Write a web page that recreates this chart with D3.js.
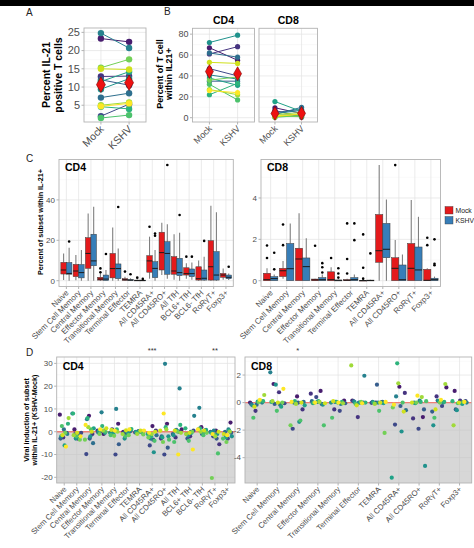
<!DOCTYPE html>
<html><head><meta charset="utf-8">
<script src="https://cdn.jsdelivr.net/npm/d3@7"></script>
<style>body{margin:0;background:#fff}svg{display:block;font-family:"Liberation Sans",Arial,sans-serif}</style>
</head><body><svg id="c" width="474" height="548"></svg>
<script>
// ---------------- DATA ----------------
const conditions = ["Mock", "KSHV"];
// Panel A: percent IL-21+ T cells per donor (14 donors)
const aMock = [23.3, 12.9, 2.0, 12.0, 7.1, 24.8, 9.4, 11.5, 4.6, 1.5, 15.3, 5.0, 15.0, 4.7];
const aKshv = [22.4, 13.0, 5.3, 10.5, 8.3, 20.7, 12.3, 14.2, 4.0, 2.3, 17.6, 5.8, 14.8, 5.5];
// Panel B: percent of T cell within IL21+
const bFacets = ["CD4", "CD8"];
const bCd4Mock = [67, 61, 47, 35, 62, 41, 72, 38, 22, 32, 36, 27, 53, 26];
const bCd4Kshv = [55, 68, 40, 35, 58, 37, 79, 31, 33, 17, 39, 22, 52, 24];
const bCd8Mock = [9.5, 7, 2, 5, 3, 4, 1, 15.5, 0.5, 2.5, 1.5, 3, 0.8, 2];
const bCd8Kshv = [4, 0.5, 3, 8, 10, 7, 2, 6, 2, 3, 1, 5, 4, 3];
// Subsets
const cd4Subsets = ["Naive", "Stem Cell Memory", "Central Memory", "Effector Memory", "Transitional Memory", "Terminal Effector", "TEMRA", "All CD45RA+", "All CD45RO+", "All TfH", "BCL6+ TfH", "BCL6- TfH", "RoR\u03b3T+", "Foxp3+"];
const cd8Subsets = ["Naive", "Stem Cell Memory", "Central Memory", "Effector Memory", "Transitional Memory", "Terminal Effector", "TEMRA", "All CD45RA+", "All CD45RO+", "RoR\u03b3T+", "Foxp3+"];
// Panel C box stats [lower whisker, q1, median, q3, upper whisker]
const cCd4Mock = [[0.3,3.3,5.3,9.1,13.5],[0.2,2,4.8,8.1,12.7],[0,6.1,13.5,21.3,33.3],[0,0.3,0.8,1.7,3.8],[0,1.4,6,13.5,26.3],[0,0.2,0.5,1.0,2],[0,0,0.1,0.3,0.6],[1,4.2,9.8,12.4,21.8],[2.8,5.3,13.9,24,28.7],[0.5,3.2,4.8,11.9,23],[1,2.8,3.5,6.4,8.6],[0,0.3,1.0,6.9,10],[0,0.3,6.9,19.8,37.1],[0.5,1.7,2.8,3.6,6]];
const cCd4Kshv = [[0,3.2,3.6,9,16.3],[0,1.4,4,8,15.2],[0,7.4,9.8,23,36.6],[0,0.1,0.8,2.8,5.3],[0,1,6,8.3,16],[0,0.1,0.3,0.6,1.2],[0,0,0.1,0.3,0.5],[0,1.5,6.1,9.4,15.2],[1,3.2,13.5,19.3,27.9],[0,2.5,4,11.1,23.8],[0.5,2,3.5,5.8,9],[0,0.3,1.2,5.3,11.9],[0,0.3,2.8,14.4,33.9],[0.3,1,1.7,2.8,3.6]];
const cCd4MockOut = [[],[],[],[6.1,4.2],[],[4.5],[1.5],[26.7],[],[],[11.9],[],[],[]];
const cCd4KshvOut = [[19.4],[],[],[13.2],[36.5],[3.2],[0.9],[23.4,22.3],[57.3],[32.5],[11.9],[19.7],[],[6.9]];
const cCd8Mock = [[0,0,0.05,0.36,0.6],[0.1,0.2,0.48,0.6,0.95],[0,0,1.05,1.57,3.26],[0,0,0.04,0.08,0.1],[0,0,0.05,0.43,0.65],[0,0,0.02,0.05,0.1],[0,0,0.01,0.02,0.05],[0,0.89,1.45,3.2,5.59],[0,0,0.6,1.11,1.97],[0,0,0.6,1.8,3.9],[0,0,0.02,0.55,0.6]];
const cCd8Kshv = [[0,0,0.1,0.2,0.3],[0,0,0.58,1.8,2.77],[0,0,0.68,1.1,2.05],[0,0,0.05,0.15,0.3],[0,0,0.02,0.03,0.05],[0,0,0.05,0.15,0.3],[0,0,0.01,0.03,0.05],[0,1.11,1.52,2.77,3.93],[0,0,0.05,0.76,1.27],[0,0,0.52,1.63,3.09],[0,0,0.05,0.12,0.2]];
const cCd8MockOut = [[1.7,1.1],[2.72,1.72],[],[1.69],[1.1],[2.77,1.05,0.35],[2.24,0.63,0.1],[],[5.59],[],[2.08,1.72]];
const cCd8KshvOut = [[1.35,0.55],[],[],[0.85,0.65,0.4],[0.6,0.35,0.15],[2.77,1.96],[1.32],[],[],[],[2.0,0.82,0.75]];
// Panel D: viral induction (KSHV - Mock), one value per donor (donor 0..13)
const dCd4 = [
 [7.5,-2.5,-0.5,-3,1,-1,-2,-6,3.5,2.5,-0.5,6,-1.5,-6.5],
 [1,-3,-0.5,-1,-1.5,8,-3,-2.5,8,-2,-3.5,-1.5,-0.5,-2],
 [7,-1,-9.8,-3,-5,5.5,-2,1.5,6,1,-3.5,2,0,3],
 [-1,0.5,0.3,0.5,-0.3,8.5,-0.5,0.3,2.5,0,-1,0.5,1.5,1],
 [3.5,1,-10,-5.5,0.3,10,-0.5,-1,1,-1.5,-1.8,0,0.8,0.5],
 [0,-1,0.2,-0.5,0,0.5,-3,-0.8,1.2,-2,-1.5,-1,0.6,1],
 [0,0.2,-0.3,0.3,-0.2,0,0.2,-0.4,-0.5,0,-1.2,-1,0.5,0.5],
 [2.5,0.5,-6,-3.5,-1.5,-3,-9,-1,-2,-4,-2.5,-1,0,-0.5],
 [3.5,-3,-10,-7,-2,29.8,-2,-2.5,2,-3.5,-4.5,1,0.5,8],
 [1,-2.5,0,-1,0.8,19,-1.5,0.5,3,-4.5,0,-0.5,0.5,-10],
 [-1,-2,0.5,-3,0,7,-1.5,-0.5,1.5,-4,0,-1,-0.5,-7.8],
 [2,0.5,1,-1,0,10.5,-0.5,0.8,1.5,-1.5,-0.5,0,0.5,1],
 [0.5,-5.5,-2,-3,0,0.5,-1,-0.5,-1.5,-9.5,-20.3,-2,0,-1],
 [4,-1,-3,-0.5,0,1,-2,-2.5,0.5,-3,-4.5,0,-1,-1.5]
];
const dCd8 = [
 [0,-0.6,0.1,-0.1,-0.15,0,-0.2,0.08,0.1,-1.1,0.05,0.55,-0.3,0.2],
 [1.35,0.75,-0.05,-0.1,-0.15,2.2,1.3,-0.3,0.05,-0.6,0,0.1,0,1.0],
 [0.45,-0.5,-1.9,0,0.05,0,-1.4,-0.2,0.1,-1.3,-1.65,-0.1,0,0.05],
 [0.85,0.65,0.4,-0.1,0.1,0.05,-0.15,-0.05,0.1,-1.65,0,0.05,-0.05,0],
 [0.15,-0.5,-0.6,-0.05,0.05,-0.1,0,0.05,0.05,-1.1,0,-0.05,0.1,0],
 [0.15,-1.05,0,0.1,0,1.95,0.05,0,0,-0.1,0.05,2.7,-0.2,-0.05],
 [0,0.02,-0.02,1.3,0.05,0.05,0,-0.05,0,-0.6,-2.2,-0.1,0,0.05],
 [1.15,0.7,-1.6,-0.25,-0.55,0.45,-2.1,-5.45,2.85,0,-0.35,1.4,-0.65,-0.15],
 [-1.05,-1.15,-1.9,-0.5,0,0.15,-4.6,-0.05,0.05,0.1,0,0.4,0,0.5],
 [1.1,0.45,-0.25,-0.65,0.15,0,-1.65,0.1,0.05,-1.1,0,1.35,-0.5,0.2],
 [0.85,0.15,0.1,-0.5,0,0,-0.55,-0.1,0.1,-0.05,0.05,-1.65,0,0.05]
];
const dCd4Sig = ["","","","","","","","***","","","","","**",""];
const dCd8Sig = ["","","*","","","","","","","",""];
const aTicks = [5,10,15,20,25];
const bTicks = [0,20,40,60,80];
const cCd4Ticks = [0,20,40];
const cCd8Ticks = [0,2,4];
const dCd4Ticks = [-20,-10,0,10,20,30];
const dCd8Ticks = [-4,-2,0,2];

// ---------------- STYLE / HELPERS ----------------
const svg = d3.select("#c");
const BORDER = "#b3b3b3", GRID = "#e3e3e3", GRIDMINOR = "#f3f3f3", TXT = "#4d4d4d";
const donorColor = i => d3.interpolateViridis(0.08 + 0.92 * i / 13);
const boxFill = {Mock: "#e41a1c", KSHV: "#377eb8"};

svg.append("rect").attr("x",0).attr("y",0).attr("width",474).attr("height",6).attr("fill","#000");

function frame(o) {
  const g = svg.append("g");
  g.append("rect").attr("x",o.x0).attr("y",o.y0).attr("width",o.x1-o.x0).attr("height",o.y1-o.y0).attr("fill","#fff");
  (o.minor||[]).forEach(v => g.append("line").attr("x1",o.x0).attr("x2",o.x1).attr("y1",o.y(v)).attr("y2",o.y(v)).attr("stroke",GRIDMINOR).attr("stroke-width",0.5));
  o.ticks.forEach(v => g.append("line").attr("x1",o.x0).attr("x2",o.x1).attr("y1",o.y(v)).attr("y2",o.y(v)).attr("stroke",GRID).attr("stroke-width",0.7));
  o.cats.forEach(c => g.append("line").attr("x1",o.x(c)).attr("x2",o.x(c)).attr("y1",o.y0).attr("y2",o.y1).attr("stroke",GRID).attr("stroke-width",0.7));
  return g;
}
function frameBorder(o) {
  const g = svg.append("g");
  g.append("rect").attr("x",o.x0).attr("y",o.y0).attr("width",o.x1-o.x0).attr("height",o.y1-o.y0).attr("fill","none").attr("stroke",BORDER).attr("stroke-width",0.9);
  if (o.yLabels !== false) {
    o.ticks.forEach(v => {
      g.append("line").attr("x1",o.x0-2.5).attr("x2",o.x0).attr("y1",o.y(v)).attr("y2",o.y(v)).attr("stroke",BORDER);
      g.append("text").attr("x",o.x0-4).attr("y",o.y(v)).attr("dy","0.35em").attr("text-anchor","end").attr("font-size",o.tickSize).attr("fill",TXT).text(v);
    });
  }
  o.cats.forEach(c => {
    g.append("line").attr("x1",o.x(c)).attr("x2",o.x(c)).attr("y1",o.y1).attr("y2",o.y1+2.5).attr("stroke",BORDER);
    g.append("text").attr("transform",`translate(${o.x(c)+o.xLabelSize*0.35},${o.y1+4+o.xLabelSize*0.35}) rotate(-45)`)
      .attr("text-anchor","end").attr("font-size",o.xLabelSize).attr("fill",TXT).text(c);
  });
}
function yTitle(lines, x, y, size, lh) {
  const t = svg.append("text").attr("transform",`translate(${x},${y}) rotate(-90)`).attr("text-anchor","middle")
    .attr("font-size",size).attr("font-weight","bold").attr("fill","#000");
  lines.forEach((l,i) => t.append("tspan").attr("x",0).attr("y",i*lh).text(l));
}
function panelLabel(t, x, y) {
  svg.append("text").attr("x",x).attr("y",y).attr("font-size",10).attr("fill","#222").text(t);
}
function pointScale(cats, x0, x1) { return d3.scalePoint().domain(cats).range([x0,x1]).padding(0.6); }

// ---------------- PANEL A ----------------
panelLabel("A", 26, 16);
{
  const o = {x0:84, x1:146, y0:28, y1:122, ticks:aTicks, minor:[2.5,7.5,12.5,17.5,22.5], cats:conditions, tickSize:11, xLabelSize:10.5};
  o.y = d3.scaleLinear().domain([0.4,26.2]).range([o.y1,o.y0]);
  o.x = pointScale(conditions, o.x0, o.x1);
  const g = frame(o);
  aMock.forEach((m,i) => {
    g.append("line").attr("x1",o.x("Mock")).attr("x2",o.x("KSHV")).attr("y1",o.y(m)).attr("y2",o.y(aKshv[i])).attr("stroke",donorColor(i)).attr("stroke-width",1);
  });
  aMock.forEach((m,i) => {
    g.append("circle").attr("cx",o.x("Mock")).attr("cy",o.y(m)).attr("r",3.2).attr("fill",donorColor(i));
    g.append("circle").attr("cx",o.x("KSHV")).attr("cy",o.y(aKshv[i])).attr("r",3.2).attr("fill",donorColor(i));
  });
  [["Mock",d3.mean(aMock)],["KSHV",d3.mean(aKshv)]].forEach(([c,v]) => {
    g.append("path").attr("d",d3.symbol(d3.symbolDiamond).size(70)()).attr("transform",`translate(${o.x(c)},${o.y(v)})`)
      .attr("fill","#ee1111").attr("stroke","#7a0000").attr("stroke-width",0.6);
  });
  frameBorder(o);
  yTitle(["Percent IL-21","positive T cells"], 50, 75, 10.5, 12);
}

// ---------------- PANEL B ----------------
panelLabel("B", 164, 15);
{
  const panels = [
    {x0:192.5, x1:254.5, mock:bCd4Mock, kshv:bCd4Kshv, name:bFacets[0], yLabels:true},
    {x0:259, x1:317.5, mock:bCd8Mock, kshv:bCd8Kshv, name:bFacets[1], yLabels:false}
  ];
  panels.forEach(p => {
    const o = {x0:p.x0, x1:p.x1, y0:28.3, y1:122, ticks:bTicks, minor:[10,30,50,70], cats:conditions, tickSize:9, xLabelSize:9, yLabels:p.yLabels};
    o.y = d3.scaleLinear().domain([-4.1,85.6]).range([o.y1,o.y0]);
    o.x = pointScale(conditions, o.x0, o.x1);
    const g = frame(o);
    p.mock.forEach((m,i) => g.append("line").attr("x1",o.x("Mock")).attr("x2",o.x("KSHV")).attr("y1",o.y(m)).attr("y2",o.y(p.kshv[i])).attr("stroke",donorColor(i)).attr("stroke-width",1));
    p.mock.forEach((m,i) => {
      g.append("circle").attr("cx",o.x("Mock")).attr("cy",o.y(m)).attr("r",2.6).attr("fill",donorColor(i));
      g.append("circle").attr("cx",o.x("KSHV")).attr("cy",o.y(p.kshv[i])).attr("r",2.6).attr("fill",donorColor(i));
    });
    [["Mock",d3.mean(p.mock)],["KSHV",d3.mean(p.kshv)]].forEach(([c,v]) => {
      g.append("path").attr("d",d3.symbol(d3.symbolDiamond).size(55)()).attr("transform",`translate(${o.x(c)},${o.y(v)})`)
        .attr("fill","#ee1111").attr("stroke","#7a0000").attr("stroke-width",0.6);
    });
    frameBorder(o);
    svg.append("text").attr("x",(o.x0+o.x1)/2).attr("y",24).attr("text-anchor","middle").attr("font-size",10.5).attr("font-weight","bold").text(p.name);
  });
  yTitle(["Percent of T cell","within IL21+"], 163, 74, 9, 8.5);
}

// ---------------- PANEL C ----------------
panelLabel("C", 26, 162);
function boxPanel(cats, mockStats, kshvStats, mockOut, kshvOut, x0, x1, domain, ticks, minor, name) {
  const o = {x0, x1, y0:159.5, y1:286.5, ticks, minor, cats, tickSize:8, xLabelSize:8};
  o.y = d3.scaleLinear().domain(domain).range([o.y1,o.y0]);
  o.x = pointScale(cats, x0, x1);
  const g = frame(o);
  const step = o.x.step(), bw = step*0.45;
  cats.forEach((c,i) => {
    [["Mock",mockStats[i],mockOut[i],-1],["KSHV",kshvStats[i],kshvOut[i],1]].forEach(([cond,s,out,side]) => {
      const cx = o.x(c) + side*bw/2;
      const [lo,q1,med,q3,hi] = s;
      g.append("line").attr("x1",cx).attr("x2",cx).attr("y1",o.y(hi)).attr("y2",o.y(q3)).attr("stroke","#7f7f7f").attr("stroke-width",1.1);
      g.append("line").attr("x1",cx).attr("x2",cx).attr("y1",o.y(q1)).attr("y2",o.y(lo)).attr("stroke","#7f7f7f").attr("stroke-width",1.1);
      g.append("rect").attr("x",cx-bw/2).attr("y",o.y(q3)).attr("width",bw).attr("height",Math.max(0.8,o.y(q1)-o.y(q3)))
        .attr("fill",boxFill[cond]).attr("stroke","#3a3a3a").attr("stroke-width",0.5);
      g.append("line").attr("x1",cx-bw/2).attr("x2",cx+bw/2).attr("y1",o.y(med)).attr("y2",o.y(med)).attr("stroke","#1a1a1a").attr("stroke-width",1);
      out.forEach(v => g.append("circle").attr("cx",cx).attr("cy",o.y(v)).attr("r",1.3).attr("fill","#000"));
    });
  });
  frameBorder(o);
  svg.append("text").attr("x",x0+6).attr("y",171).attr("font-size",10.5).attr("font-weight","bold").text(name);
}
boxPanel(cd4Subsets, cCd4Mock, cCd4Kshv, cCd4MockOut, cCd4KshvOut, 59, 233.3, [-2.87,60], cCd4Ticks, [10,30,50], "CD4");
boxPanel(cd8Subsets, cCd8Mock, cCd8Kshv, cCd8MockOut, cCd8KshvOut, 261, 440.5, [-0.28,5.86], cCd8Ticks, [1,3,5], "CD8");
yTitle(["Percent of subset within IL-21+"], 43, 222, 7.2, 0);
// legend
conditions.forEach((c,i) => {
  svg.append("rect").attr("x",445).attr("y",206.5+i*10).attr("width",8).attr("height",7.5).attr("fill",boxFill[c]).attr("stroke","#3a3a3a").attr("stroke-width",0.4);
  svg.append("text").attr("x",455.5).attr("y",213+i*10).attr("font-size",6.8).attr("fill","#222").text(c);
});

// ---------------- PANEL D ----------------
panelLabel("D", 26, 356);
function dotPanel(cats, vals, sig, x0, x1, domain, ticks, minor, name) {
  const o = {x0, x1, y0:357, y1:483, ticks, minor, cats, tickSize:8, xLabelSize:7.8};
  o.y = d3.scaleLinear().domain(domain).range([o.y1,o.y0]);
  o.x = pointScale(cats, x0, x1);
  const g = frame(o);
  g.append("rect").attr("x",x0).attr("y",o.y(0)).attr("width",x1-x0).attr("height",o.y1-o.y(0)).attr("fill","#bdbdbd").attr("opacity",0.6);
  g.append("line").attr("x1",x0).attr("x2",x1).attr("y1",o.y(0)).attr("y2",o.y(0)).attr("stroke","#ef7f76").attr("stroke-width",1.3);
  const step = o.x.step();
  cats.forEach((c,ci) => {
    vals[ci].forEach((v,di) => {
      const jit = (((di*5 + ci*3) % 14)/13 - 0.5) * 0.7 * step;
      g.append("circle").attr("cx",o.x(c)+jit).attr("cy",o.y(v)).attr("r",2.1).attr("fill",donorColor(di));
    });
    if (sig[ci]) svg.append("text").attr("x",o.x(c)).attr("y",353).attr("text-anchor","middle").attr("font-size",7.5).attr("fill","#333").text(sig[ci]);
  });
  frameBorder(o);
  svg.append("text").attr("x",x0+6).attr("y",370).attr("font-size",10.5).attr("font-weight","bold").text(name);
}
dotPanel(cd4Subsets, dCd4, dCd4Sig, 56.7, 235, [-22.5,32.8], dCd4Ticks, [-15,-5,5,15,25], "CD4");
dotPanel(cd8Subsets, dCd8, dCd8Sig, 245, 471.7, [-5.84,3.31], dCd8Ticks, [-5,-3,-1,1,3], "CD8");
yTitle(["Viral induction of subset","within IL-21+ (KSHV-Mock)"], 29, 420, 7.2, 7.5);
</script></body></html>
